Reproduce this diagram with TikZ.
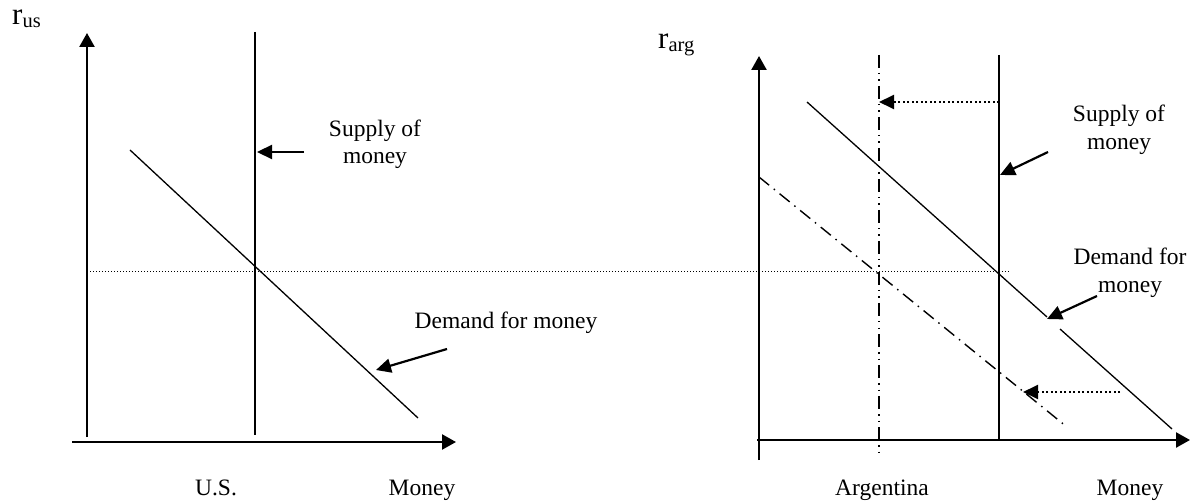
\documentclass[tikz,border=0pt]{standalone}
\usepackage{fontspec}
\setmainfont{Liberation Serif}
\usetikzlibrary{arrows.meta}
\tikzset{
  axis/.style={line width=2.4pt,-{Triangle[length=14pt,width=15pt]}},
  curve/.style={line width=1.3pt},
  pointer/.style={line width=2.2pt,-{Triangle[length=15pt,width=14pt]}},
  dotarrow/.style={line width=2pt,dash pattern=on 2pt off 2.5pt,-{Triangle[length=15pt,width=14pt]}},
  guide/.style={line width=1pt,dash pattern=on 1pt off 2pt},
  dashdotv/.style={line width=1.4pt,dash pattern=on 13pt off 5pt on 1.5pt off 5pt on 1.5pt off 5pt},
  dashdotd/.style={line width=1.4pt,dash pattern=on 13pt off 6pt on 1.5pt off 6pt},
  lbl/.style={inner sep=0pt,anchor=base,font=\fontsize{23.5}{28}\selectfont},
}
\begin{document}
\begin{tikzpicture}[x=1pt,y=-1pt]
\useasboundingbox (0,0) rectangle (1193,502);
% ---------- left panel ----------
\coordinate (lyb) at (87,437);
\coordinate (lyt) at (87,33);
\coordinate (lxl) at (72,442);
\coordinate (lxr) at (456,442);
\coordinate (lst) at (255,32);
\coordinate (lsb) at (255,435);
\coordinate (ldt) at (130,150);
\coordinate (ldb) at (418,418);
\coordinate (lsa1) at (304,152);
\coordinate (lsa2) at (257,152);
\coordinate (lda1) at (447,349);
\coordinate (lda2) at (376,370);
\coordinate (gl) at (90,272);
\coordinate (gr) at (1010,272);

\draw[axis] (lyb) -- (lyt);
\draw[axis] (lxl) -- (lxr);
\draw[curve] (lst) -- (lsb);
\draw[curve] (ldt) -- (ldb);
\draw[pointer] (lsa1) -- (lsa2);
\draw[pointer] (lda1) -- (lda2);
\draw[guide] (gl) -- (gr);

\node[inner sep=0pt,anchor=base west] (rus) at (12,25)
  {\fontsize{31}{31}\selectfont r\raisebox{-3pt}{\fontsize{20.5}{20.5}\selectfont us}};
\node[lbl] (lsup1) at (375,137) {Supply of};
\node[lbl] (lsup2) at (375,164) {money};
\node[lbl] (ldem) at (506,329) {Demand for money};
\node[lbl] (lus) at (216,495) {U.S.};
\node[lbl] (lmoney) at (422,495) {Money};

% ---------- right panel ----------
\coordinate (ryb) at (759,460);
\coordinate (ryt) at (759,56);
\coordinate (rxl) at (757,440);
\coordinate (rxr) at (1190,440);
\coordinate (rat) at (879,55);
\coordinate (rab) at (879,455);
\coordinate (rst) at (999,55);
\coordinate (rsb) at (999,440);
\coordinate (rd1) at (807,102);
\coordinate (rd2) at (1047,317);
\coordinate (rd3) at (1060,329);
\coordinate (rd4) at (1172,429);
\coordinate (rn1) at (759,177);
\coordinate (rn2) at (1067,427);
\coordinate (rta1) at (999,102);
\coordinate (rta2) at (879,102);
\coordinate (rba1) at (1120,392);
\coordinate (rba2) at (1023,392);
\coordinate (rsa1) at (1048,152);
\coordinate (rsa2) at (1000,175);
\coordinate (rda1) at (1097,296);
\coordinate (rda2) at (1047,319);

\draw[axis] (ryb) -- (ryt);
\draw[axis] (rxl) -- (rxr);
\draw[dashdotv] (rat) -- (rab);
\draw[curve] (rst) -- (rsb);
\draw[curve] (rd1) -- (rd2);
\draw[curve] (rd3) -- (rd4);
\draw[dashdotd] (rn1) -- (rn2);
\draw[dotarrow] (rta1) -- (rta2);
\draw[dotarrow] (rba1) -- (rba2);
\draw[pointer] (rsa1) -- (rsa2);
\draw[pointer] (rda1) -- (rda2);

\node[inner sep=0pt,anchor=base west] (rarg) at (658,49)
  {\fontsize{31}{31}\selectfont r\raisebox{-3pt}{\fontsize{20.5}{20.5}\selectfont arg}};
\node[lbl] (rsup1) at (1119,122) {Supply of};
\node[lbl] (rsup2) at (1119,150) {money};
\node[lbl] (rdem1) at (1130,265) {Demand for};
\node[lbl] (rdem2) at (1130,293) {money};
\node[lbl] (rarge) at (882,495) {Argentina};
\node[lbl] (rmoney) at (1130,495) {Money};
\end{tikzpicture}
\end{document}
